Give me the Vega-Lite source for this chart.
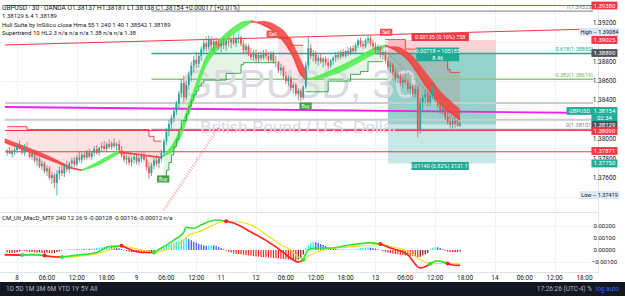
{
"$schema": "https://vega.github.io/schema/vega-lite/v6.json",
"padding": 0,
"spacing": 0,
"bounds": "full",
"background": "#ffffff",
"config": {"view": {"stroke": null}, "font": "Roboto", "axis": {"labelFont": "Roboto"}},
"datasets": {
"bars": [
{"b":-4,"o":1.3786,"h":1.379,"l":1.3783,"c":1.3788,"st":1.3813,"tr":"d","ph":1,"hv":-0.0002,"hc":"dn"},
{"b":-3,"o":1.3788,"h":1.3792,"l":1.3785,"c":1.3785,"st":1.3813,"tr":"d","ph":1,"hv":-0.00024,"hc":"dn"},
{"b":-2,"o":1.3785,"h":1.3789,"l":1.3781,"c":1.3787,"st":1.3813,"tr":"d","ph":1,"hv":-0.0002,"hc":"dnr"},
{"b":-1,"o":1.3787,"h":1.3791,"l":1.3784,"c":1.3789,"st":1.3813,"tr":"d","ph":1,"hv":-0.00023,"hc":"dn"},
{"b":0,"o":1.3789,"h":1.3796,"l":1.3786,"c":1.3793,"st":1.3813,"tr":"d","ph":1,"hv":-0.00018,"hc":"dnr"},
{"b":1,"o":1.3793,"h":1.3799,"l":1.3789,"c":1.3791,"st":1.3813,"tr":"d","ph":1,"hv":-0.00012,"hc":"dnr"},
{"b":2,"o":1.3791,"h":1.3794,"l":1.3784,"c":1.3786,"st":1.3813,"tr":"d","ph":1,"hv":-0.00006,"hc":"dnr"},
{"b":3,"o":1.3786,"h":1.3795,"l":1.3783,"c":1.3792,"st":1.3813,"tr":"d","ph":1,"hv":-0.00008,"hc":"dn"},
{"b":4,"o":1.3792,"h":1.3797,"l":1.3787,"c":1.3788,"st":1.381,"tr":"d","ph":1,"hv":-0.00013,"hc":"dn"},
{"b":5,"o":1.3788,"h":1.3791,"l":1.378,"c":1.3782,"st":1.381,"tr":"d","ph":1,"hv":-0.00016,"hc":"dn"},
{"b":6,"o":1.3782,"h":1.3788,"l":1.3779,"c":1.3785,"st":1.381,"tr":"d","ph":1,"hv":-0.00014,"hc":"dnr"},
{"b":7,"o":1.3785,"h":1.3787,"l":1.3776,"c":1.3778,"st":1.381,"tr":"d","ph":1,"hv":-0.00019,"hc":"dn"},
{"b":8,"o":1.3778,"h":1.3783,"l":1.3772,"c":1.378,"st":1.381,"tr":"d","ph":1,"hv":-0.00022,"hc":"dn"},
{"b":9,"o":1.378,"h":1.3782,"l":1.377,"c":1.3772,"st":1.381,"tr":"d","ph":1,"hv":-0.00018,"hc":"dnr"},
{"b":10,"o":1.3772,"h":1.3778,"l":1.3768,"c":1.3775,"st":1.381,"tr":"d","ph":1,"hv":-0.00024,"hc":"dn"},
{"b":11,"o":1.3775,"h":1.3777,"l":1.3765,"c":1.3767,"st":1.381,"tr":"d","ph":1,"hv":-0.00026,"hc":"dn"},
{"b":12,"o":1.3767,"h":1.3773,"l":1.3762,"c":1.377,"st":1.381,"tr":"d","ph":1,"hv":-0.00021,"hc":"dnr"},
{"b":13,"o":1.377,"h":1.3772,"l":1.3758,"c":1.376,"st":1.381,"tr":"d","ph":1,"hv":-0.00025,"hc":"dn"},
{"b":14,"o":1.376,"h":1.3766,"l":1.3754,"c":1.3763,"st":1.381,"tr":"d","ph":1,"hv":-0.00028,"hc":"dn"},
{"b":15,"o":1.3763,"h":1.3765,"l":1.3749,"c":1.3755,"st":1.381,"tr":"d","ph":1,"hv":-0.00023,"hc":"dnr"},
{"b":16,"o":1.3755,"h":1.3768,"l":1.37419,"c":1.3764,"st":1.381,"tr":"d","ph":1,"hv":-0.00016,"hc":"dnr"},
{"b":17,"o":1.3764,"h":1.3772,"l":1.3758,"c":1.3768,"st":1.381,"tr":"d","ph":1,"hv":-0.0001,"hc":"dnr"},
{"b":18,"o":1.3768,"h":1.3774,"l":1.3762,"c":1.3765,"st":1.381,"tr":"d","ph":1,"hv":-0.00004,"hc":"dnr"},
{"b":19,"o":1.3765,"h":1.3775,"l":1.3761,"c":1.3772,"st":1.381,"tr":"d","ph":1,"hv":0.00003,"hc":"up"},
{"b":20,"o":1.3772,"h":1.3778,"l":1.3766,"c":1.3769,"st":1.381,"tr":"d","ph":1,"hv":0.00005,"hc":"up"},
{"b":21,"o":1.3769,"h":1.3777,"l":1.3765,"c":1.3775,"st":1.381,"tr":"d","ph":1,"hv":0.00004,"hc":"upf"},
{"b":22,"o":1.3775,"h":1.3781,"l":1.377,"c":1.3778,"st":1.381,"tr":"d","ph":1,"hv":0.00007,"hc":"up"},
{"b":23,"o":1.3778,"h":1.3782,"l":1.3771,"c":1.3774,"st":1.381,"tr":"d","ph":1,"hv":0.00009,"hc":"up"},
{"b":24,"o":1.3774,"h":1.3784,"l":1.3772,"c":1.3781,"st":1.381,"tr":"d","ph":1,"hv":0.00006,"hc":"upf"},
{"b":25,"o":1.3781,"h":1.3787,"l":1.3776,"c":1.3779,"st":1.381,"tr":"d","ph":1,"hv":0.00008,"hc":"up"},
{"b":26,"o":1.3779,"h":1.3786,"l":1.3775,"c":1.3784,"st":1.381,"tr":"d","ph":1,"hv":0.0001,"hc":"up"},
{"b":27,"o":1.3784,"h":1.3788,"l":1.3778,"c":1.3781,"st":1.381,"tr":"d","ph":1,"hv":0.00008,"hc":"upf"},
{"b":28,"o":1.3781,"h":1.3789,"l":1.3779,"c":1.3787,"st":1.381,"tr":"d","ph":1,"hv":0.00011,"hc":"up"},
{"b":29,"o":1.3787,"h":1.379,"l":1.378,"c":1.3782,"st":1.381,"tr":"d","ph":1,"hv":0.00009,"hc":"upf"},
{"b":30,"o":1.3782,"h":1.3788,"l":1.3779,"c":1.3786,"st":1.381,"tr":"d","ph":1,"hv":0.00012,"hc":"up"},
{"b":31,"o":1.3786,"h":1.3793,"l":1.3783,"c":1.379,"st":1.381,"tr":"d","ph":1,"hv":0.00015,"hc":"up"},
{"b":32,"o":1.379,"h":1.3794,"l":1.3784,"c":1.3786,"st":1.381,"tr":"d","ph":1,"hv":0.00018,"hc":"up"},
{"b":33,"o":1.3786,"h":1.3792,"l":1.3783,"c":1.3791,"st":1.381,"tr":"d","ph":1,"hv":0.00021,"hc":"up"},
{"b":34,"o":1.3791,"h":1.3797,"l":1.3787,"c":1.3793,"st":1.381,"tr":"d","ph":1,"hv":0.00024,"hc":"up"},
{"b":35,"o":1.3793,"h":1.3798,"l":1.3788,"c":1.379,"st":1.381,"tr":"d","ph":1,"hv":0.00028,"hc":"up"},
{"b":36,"o":1.379,"h":1.3797,"l":1.3787,"c":1.3795,"st":1.381,"tr":"d","ph":1,"hv":0.00031,"hc":"up"},
{"b":37,"o":1.3795,"h":1.38,"l":1.379,"c":1.3792,"st":1.381,"tr":"d","ph":1,"hv":0.00033,"hc":"up"},
{"b":38,"o":1.3792,"h":1.3798,"l":1.3789,"c":1.3796,"st":1.381,"tr":"d","ph":1,"hv":0.00029,"hc":"upf"},
{"b":39,"o":1.3796,"h":1.3801,"l":1.3791,"c":1.3793,"st":1.381,"tr":"d","ph":1,"hv":0.00026,"hc":"upf"},
{"b":40,"o":1.3793,"h":1.3797,"l":1.3788,"c":1.3795,"st":1.381,"tr":"d","ph":1,"hv":0.00022,"hc":"upf"},
{"b":41,"o":1.3795,"h":1.3799,"l":1.3787,"c":1.3789,"st":1.381,"tr":"d","ph":1,"hv":0.00015,"hc":"upf"},
{"b":42,"o":1.3789,"h":1.3793,"l":1.3781,"c":1.3783,"st":1.381,"tr":"d","ph":1,"hv":0.00008,"hc":"upf"},
{"b":43,"o":1.3783,"h":1.3786,"l":1.3776,"c":1.3779,"st":1.381,"tr":"d","ph":1,"hv":-0.00003,"hc":"dn"},
{"b":44,"o":1.3779,"h":1.3784,"l":1.3774,"c":1.3781,"st":1.381,"tr":"d","ph":1,"hv":-0.00009,"hc":"dn"},
{"b":45,"o":1.3781,"h":1.3783,"l":1.3773,"c":1.3776,"st":1.381,"tr":"d","ph":1,"hv":-0.00014,"hc":"dn"},
{"b":46,"o":1.3776,"h":1.3782,"l":1.3772,"c":1.3779,"st":1.381,"tr":"d","ph":1,"hv":-0.00018,"hc":"dn"},
{"b":47,"o":1.3779,"h":1.3785,"l":1.3775,"c":1.3782,"st":1.381,"tr":"d","ph":1,"hv":-0.00016,"hc":"dnr"},
{"b":48,"o":1.3782,"h":1.3784,"l":1.3774,"c":1.3777,"st":1.381,"tr":"d","ph":1,"hv":-0.0002,"hc":"dn"},
{"b":49,"o":1.3777,"h":1.3783,"l":1.3773,"c":1.378,"st":1.381,"tr":"d","ph":1,"hv":-0.00023,"hc":"dn"},
{"b":50,"o":1.378,"h":1.3786,"l":1.3776,"c":1.3783,"st":1.381,"tr":"d","ph":1,"hv":-0.00025,"hc":"dn"},
{"b":51,"o":1.3783,"h":1.3788,"l":1.3777,"c":1.3779,"st":1.381,"tr":"d","ph":1,"hv":-0.00022,"hc":"dnr"},
{"b":52,"o":1.3779,"h":1.3782,"l":1.3768,"c":1.3771,"st":1.381,"tr":"d","ph":1,"hv":-0.00026,"hc":"dn"},
{"b":53,"o":1.3771,"h":1.3776,"l":1.3759,"c":1.3765,"st":1.3803,"tr":"d","ph":1,"hv":-0.00029,"hc":"dn"},
{"b":54,"o":1.3765,"h":1.3776,"l":1.3762,"c":1.3773,"st":1.3803,"tr":"d","ph":1,"hv":-0.00022,"hc":"dnr"},
{"b":55,"o":1.3773,"h":1.3781,"l":1.3769,"c":1.3778,"st":1.3798,"tr":"d","ph":1,"hv":-0.00012,"hc":"dnr"},
{"b":56,"o":1.3778,"h":1.3784,"l":1.3772,"c":1.3775,"st":1.3798,"tr":"d","ph":1,"hv":0.00004,"hc":"up"},
{"b":57,"o":1.3775,"h":1.3782,"l":1.377,"c":1.378,"st":1.3798,"tr":"d","ph":1,"hv":0.00012,"hc":"up"},
{"b":58,"o":1.378,"h":1.3789,"l":1.3777,"c":1.3786,"st":1.3798,"tr":"d","ph":1,"hv":0.0002,"hc":"up"},
{"b":59,"o":1.3786,"h":1.38,"l":1.3783,"c":1.3798,"st":1.376,"tr":"u","ph":2,"hv":0.00029,"hc":"up"},
{"b":60,"o":1.3798,"h":1.3812,"l":1.3794,"c":1.3808,"st":1.3768,"tr":"u","ph":2,"hv":0.00038,"hc":"up"},
{"b":61,"o":1.3808,"h":1.382,"l":1.3803,"c":1.3816,"st":1.3776,"tr":"u","ph":2,"hv":0.00046,"hc":"up"},
{"b":62,"o":1.3816,"h":1.3825,"l":1.381,"c":1.3822,"st":1.3784,"tr":"u","ph":2,"hv":0.00055,"hc":"up"},
{"b":63,"o":1.3822,"h":1.3833,"l":1.3818,"c":1.3829,"st":1.3792,"tr":"u","ph":2,"hv":0.00063,"hc":"up"},
{"b":64,"o":1.3829,"h":1.384,"l":1.3825,"c":1.3837,"st":1.38,"tr":"u","ph":2,"hv":0.0007,"hc":"up"},
{"b":65,"o":1.3837,"h":1.385,"l":1.3832,"c":1.3847,"st":1.381,"tr":"u","ph":2,"hv":0.00078,"hc":"up"},
{"b":66,"o":1.3847,"h":1.3862,"l":1.3843,"c":1.3858,"st":1.3819,"tr":"u","ph":2,"hv":0.00085,"hc":"up"},
{"b":67,"o":1.3858,"h":1.3866,"l":1.3838,"c":1.3843,"st":1.3819,"tr":"u","ph":2,"hv":0.00093,"hc":"up"},
{"b":68,"o":1.3843,"h":1.386,"l":1.384,"c":1.3856,"st":1.3826,"tr":"u","ph":2,"hv":0.001,"hc":"up"},
{"b":69,"o":1.3856,"h":1.387,"l":1.3851,"c":1.3866,"st":1.3834,"tr":"u","ph":2,"hv":0.00092,"hc":"upf"},
{"b":70,"o":1.3866,"h":1.388,"l":1.386,"c":1.3876,"st":1.384,"tr":"u","ph":2,"hv":0.00081,"hc":"upf"},
{"b":71,"o":1.3876,"h":1.3886,"l":1.3869,"c":1.3882,"st":1.3846,"tr":"u","ph":2,"hv":0.0007,"hc":"upf"},
{"b":72,"o":1.3882,"h":1.389,"l":1.3873,"c":1.3878,"st":1.385,"tr":"u","ph":2,"hv":0.0006,"hc":"upf"},
{"b":73,"o":1.3878,"h":1.3889,"l":1.3874,"c":1.3886,"st":1.3855,"tr":"u","ph":2,"hv":0.00052,"hc":"upf"},
{"b":74,"o":1.3886,"h":1.3896,"l":1.3881,"c":1.3893,"st":1.3858,"tr":"u","ph":2,"hv":0.00046,"hc":"upf"},
{"b":75,"o":1.3893,"h":1.3903,"l":1.3888,"c":1.3899,"st":1.3861,"tr":"u","ph":2,"hv":0.0004,"hc":"upf"},
{"b":76,"o":1.3899,"h":1.3906,"l":1.3891,"c":1.3895,"st":1.3861,"tr":"u","ph":2,"hv":0.00034,"hc":"upf"},
{"b":77,"o":1.3895,"h":1.3907,"l":1.3892,"c":1.3903,"st":1.3861,"tr":"u","ph":2,"hv":0.00038,"hc":"up"},
{"b":78,"o":1.3903,"h":1.3906,"l":1.3893,"c":1.3897,"st":1.3861,"tr":"u","ph":2,"hv":0.00042,"hc":"up"},
{"b":79,"o":1.3897,"h":1.3904,"l":1.389,"c":1.3901,"st":1.3861,"tr":"u","ph":2,"hv":0.00039,"hc":"upf"},
{"b":80,"o":1.3901,"h":1.3905,"l":1.3894,"c":1.3898,"st":1.3861,"tr":"u","ph":2,"hv":0.00034,"hc":"upf"},
{"b":81,"o":1.3898,"h":1.3903,"l":1.3892,"c":1.3896,"st":1.3861,"tr":"u","ph":2,"hv":0.00026,"hc":"upf"},
{"b":82,"o":1.3896,"h":1.3902,"l":1.389,"c":1.3899,"st":1.3861,"tr":"u","ph":2,"hv":0.00018,"hc":"upf"},
{"b":83,"o":1.3899,"h":1.3904,"l":1.3893,"c":1.3897,"st":1.3861,"tr":"u","ph":2,"hv":0.00008,"hc":"upf"},
{"b":84,"o":1.3897,"h":1.3903,"l":1.3891,"c":1.3901,"st":1.3868,"tr":"u","ph":2,"hv":-0.00006,"hc":"dn"},
{"b":85,"o":1.3901,"h":1.3906,"l":1.3896,"c":1.39,"st":1.3868,"tr":"u","ph":2,"hv":-0.00014,"hc":"dn"},
{"b":86,"o":1.39,"h":1.3905,"l":1.3894,"c":1.3903,"st":1.3868,"tr":"u","ph":2,"hv":-0.0002,"hc":"dn"},
{"b":87,"o":1.3903,"h":1.3907,"l":1.3897,"c":1.3899,"st":1.3868,"tr":"u","ph":2,"hv":-0.00026,"hc":"dn"},
{"b":88,"o":1.3899,"h":1.3906,"l":1.3895,"c":1.3904,"st":1.3868,"tr":"u","ph":2,"hv":-0.0003,"hc":"dn"},
{"b":89,"o":1.3904,"h":1.39084,"l":1.3899,"c":1.3905,"st":1.3868,"tr":"u","ph":2,"hv":-0.00034,"hc":"dn"},
{"b":90,"o":1.3905,"h":1.3907,"l":1.3896,"c":1.3898,"st":1.3877,"tr":"u","ph":2,"hv":-0.00036,"hc":"dn"},
{"b":91,"o":1.3898,"h":1.3902,"l":1.3889,"c":1.3892,"st":1.3879,"tr":"u","ph":2,"hv":-0.00039,"hc":"dn"},
{"b":92,"o":1.3892,"h":1.3899,"l":1.3888,"c":1.3896,"st":1.3879,"tr":"u","ph":2,"hv":-0.00042,"hc":"dn"},
{"b":93,"o":1.3896,"h":1.3898,"l":1.3886,"c":1.3889,"st":1.3879,"tr":"u","ph":2,"hv":-0.00045,"hc":"dn"},
{"b":94,"o":1.3889,"h":1.3894,"l":1.3882,"c":1.3885,"st":1.3879,"tr":"u","ph":2,"hv":-0.00048,"hc":"dn"},
{"b":95,"o":1.3885,"h":1.3892,"l":1.3881,"c":1.3889,"st":1.3879,"tr":"u","ph":2,"hv":-0.0005,"hc":"dn"},
{"b":96,"o":1.3889,"h":1.3893,"l":1.388,"c":1.3883,"st":1.3879,"tr":"u","ph":2,"hv":-0.00053,"hc":"dn"},
{"b":97,"o":1.3883,"h":1.389,"l":1.3879,"c":1.3887,"st":1.3879,"tr":"u","ph":2,"hv":-0.00055,"hc":"dn"},
{"b":98,"o":1.3887,"h":1.3891,"l":1.3881,"c":1.3884,"st":1.3879,"tr":"u","ph":2,"hv":-0.00057,"hc":"dn"},
{"b":99,"o":1.3884,"h":1.3892,"l":1.3882,"c":1.3889,"st":1.3879,"tr":"u","ph":2,"hv":-0.00059,"hc":"dn"},
{"b":100,"o":1.3889,"h":1.3893,"l":1.3883,"c":1.3886,"st":1.3879,"tr":"u","ph":2,"hv":-0.00061,"hc":"dn"},
{"b":101,"o":1.3886,"h":1.389,"l":1.3879,"c":1.3882,"st":1.3879,"tr":"u","ph":2,"hv":-0.00063,"hc":"dn"},
{"b":102,"o":1.3882,"h":1.3891,"l":1.388,"c":1.3888,"st":1.3879,"tr":"u","ph":2,"hv":-0.00065,"hc":"dn"},
{"b":103,"o":1.3888,"h":1.3891,"l":1.3878,"c":1.388,"st":1.3879,"tr":"u","ph":2,"hv":-0.00067,"hc":"dn"},
{"b":104,"o":1.388,"h":1.3886,"l":1.3874,"c":1.388,"st":1.3879,"tr":"u","ph":2,"hv":-0.00069,"hc":"dn"},
{"b":105,"o":1.388,"h":1.3881,"l":1.3868,"c":1.3871,"st":1.3904,"tr":"d","ph":3,"hv":-0.00071,"hc":"dn"},
{"b":106,"o":1.3871,"h":1.3878,"l":1.3866,"c":1.3874,"st":1.3904,"tr":"d","ph":3,"hv":-0.00073,"hc":"dn"},
{"b":107,"o":1.3874,"h":1.3876,"l":1.3862,"c":1.3865,"st":1.3904,"tr":"d","ph":3,"hv":-0.00075,"hc":"dn"},
{"b":108,"o":1.3865,"h":1.387,"l":1.3857,"c":1.386,"st":1.3904,"tr":"d","ph":3,"hv":-0.00077,"hc":"dn"},
{"b":109,"o":1.386,"h":1.3866,"l":1.3855,"c":1.3863,"st":1.3904,"tr":"d","ph":3,"hv":-0.00079,"hc":"dn"},
{"b":110,"o":1.3863,"h":1.3865,"l":1.385,"c":1.3853,"st":1.3897,"tr":"d","ph":3,"hv":-0.00081,"hc":"dn"},
{"b":111,"o":1.3853,"h":1.3859,"l":1.3847,"c":1.3856,"st":1.3897,"tr":"d","ph":3,"hv":-0.00083,"hc":"dn"},
{"b":112,"o":1.3856,"h":1.3858,"l":1.3844,"c":1.3847,"st":1.3897,"tr":"d","ph":3,"hv":-0.00084,"hc":"dn"},
{"b":113,"o":1.3847,"h":1.3853,"l":1.384,"c":1.385,"st":1.3897,"tr":"d","ph":3,"hv":-0.00078,"hc":"dnr"},
{"b":114,"o":1.385,"h":1.3852,"l":1.3839,"c":1.3843,"st":1.3897,"tr":"d","ph":3,"hv":-0.00065,"hc":"dnr"},
{"b":115,"o":1.3843,"h":1.3856,"l":1.3841,"c":1.3854,"st":1.3897,"tr":"d","ph":3,"hv":-0.00038,"hc":"dnr"},
{"b":116,"o":1.3854,"h":1.388,"l":1.3852,"c":1.3876,"st":1.3849,"tr":"u","ph":4,"hv":0.00015,"hc":"up"},
{"b":117,"o":1.3876,"h":1.3906,"l":1.3872,"c":1.3894,"st":1.3849,"tr":"u","ph":4,"hv":0.0004,"hc":"up"},
{"b":118,"o":1.3894,"h":1.3898,"l":1.3883,"c":1.3886,"st":1.3849,"tr":"u","ph":4,"hv":0.00058,"hc":"up"},
{"b":119,"o":1.3886,"h":1.3892,"l":1.388,"c":1.3889,"st":1.3849,"tr":"u","ph":4,"hv":0.00068,"hc":"up"},
{"b":120,"o":1.3889,"h":1.3891,"l":1.3878,"c":1.3881,"st":1.3849,"tr":"u","ph":4,"hv":0.00064,"hc":"upf"},
{"b":121,"o":1.3881,"h":1.3887,"l":1.3876,"c":1.3884,"st":1.3849,"tr":"u","ph":4,"hv":0.00058,"hc":"upf"},
{"b":122,"o":1.3884,"h":1.3888,"l":1.3878,"c":1.388,"st":1.3849,"tr":"u","ph":4,"hv":0.0005,"hc":"upf"},
{"b":123,"o":1.388,"h":1.3885,"l":1.3874,"c":1.3883,"st":1.3849,"tr":"u","ph":4,"hv":0.00043,"hc":"upf"},
{"b":124,"o":1.3883,"h":1.3886,"l":1.3876,"c":1.3879,"st":1.3849,"tr":"u","ph":4,"hv":0.00034,"hc":"upf"},
{"b":125,"o":1.3879,"h":1.3884,"l":1.3872,"c":1.3876,"st":1.386,"tr":"u","ph":4,"hv":0.00024,"hc":"upf"},
{"b":126,"o":1.3876,"h":1.3883,"l":1.3873,"c":1.3881,"st":1.386,"tr":"u","ph":4,"hv":0.00016,"hc":"upf"},
{"b":127,"o":1.3881,"h":1.3886,"l":1.3877,"c":1.3884,"st":1.386,"tr":"u","ph":4,"hv":0.00011,"hc":"upf"},
{"b":128,"o":1.3884,"h":1.389,"l":1.388,"c":1.3887,"st":1.386,"tr":"u","ph":4,"hv":0.00008,"hc":"upf"},
{"b":129,"o":1.3887,"h":1.3891,"l":1.3882,"c":1.3885,"st":1.386,"tr":"u","ph":4,"hv":0.00006,"hc":"upf"},
{"b":130,"o":1.3885,"h":1.3892,"l":1.3883,"c":1.389,"st":1.386,"tr":"u","ph":4,"hv":0.00005,"hc":"upf"},
{"b":131,"o":1.389,"h":1.3893,"l":1.3884,"c":1.3886,"st":1.386,"tr":"u","ph":4,"hv":0.00006,"hc":"up"},
{"b":132,"o":1.3886,"h":1.3892,"l":1.3884,"c":1.3891,"st":1.386,"tr":"u","ph":4,"hv":0.00004,"hc":"upf"},
{"b":133,"o":1.3891,"h":1.3895,"l":1.3886,"c":1.3889,"st":1.386,"tr":"u","ph":4,"hv":0.00003,"hc":"upf"},
{"b":134,"o":1.3889,"h":1.3896,"l":1.3887,"c":1.3894,"st":1.3867,"tr":"u","ph":4,"hv":0.00004,"hc":"up"},
{"b":135,"o":1.3894,"h":1.3897,"l":1.3888,"c":1.3891,"st":1.3867,"tr":"u","ph":4,"hv":0.00005,"hc":"up"},
{"b":136,"o":1.3891,"h":1.3899,"l":1.3889,"c":1.3897,"st":1.3867,"tr":"u","ph":4,"hv":0.00008,"hc":"up"},
{"b":137,"o":1.3897,"h":1.3904,"l":1.3894,"c":1.3902,"st":1.3867,"tr":"u","ph":4,"hv":0.00012,"hc":"up"},
{"b":138,"o":1.3902,"h":1.3905,"l":1.3895,"c":1.3898,"st":1.387,"tr":"u","ph":4,"hv":0.00016,"hc":"up"},
{"b":139,"o":1.3898,"h":1.3902,"l":1.3893,"c":1.3896,"st":1.387,"tr":"u","ph":4,"hv":0.00019,"hc":"up"},
{"b":140,"o":1.3896,"h":1.3904,"l":1.3894,"c":1.3902,"st":1.387,"tr":"u","ph":4,"hv":0.00022,"hc":"up"},
{"b":141,"o":1.3902,"h":1.3907,"l":1.3898,"c":1.3904,"st":1.388,"tr":"u","ph":4,"hv":0.00024,"hc":"up"},
{"b":142,"o":1.3904,"h":1.3907,"l":1.3896,"c":1.3899,"st":1.388,"tr":"u","ph":4,"hv":0.00021,"hc":"upf"},
{"b":143,"o":1.3899,"h":1.3903,"l":1.3893,"c":1.3896,"st":1.388,"tr":"u","ph":4,"hv":0.00017,"hc":"upf"},
{"b":144,"o":1.3896,"h":1.39,"l":1.3889,"c":1.3892,"st":1.388,"tr":"u","ph":4,"hv":0.00012,"hc":"upf"},
{"b":145,"o":1.3892,"h":1.3898,"l":1.3887,"c":1.3895,"st":1.388,"tr":"u","ph":4,"hv":0.00006,"hc":"upf"},
{"b":146,"o":1.3895,"h":1.3897,"l":1.3884,"c":1.3887,"st":1.388,"tr":"u","ph":4,"hv":-0.00003,"hc":"dn"},
{"b":147,"o":1.3887,"h":1.3893,"l":1.3882,"c":1.389,"st":1.388,"tr":"u","ph":4,"hv":-0.0001,"hc":"dn"},
{"b":148,"o":1.389,"h":1.3892,"l":1.3878,"c":1.3881,"st":1.3903,"tr":"d","ph":5,"hv":-0.00016,"hc":"dn"},
{"b":149,"o":1.3881,"h":1.3885,"l":1.3872,"c":1.3875,"st":1.3903,"tr":"d","ph":5,"hv":-0.00022,"hc":"dn"},
{"b":150,"o":1.3875,"h":1.388,"l":1.3868,"c":1.3877,"st":1.3903,"tr":"d","ph":5,"hv":-0.00026,"hc":"dn"},
{"b":151,"o":1.3877,"h":1.3879,"l":1.3866,"c":1.3869,"st":1.3903,"tr":"d","ph":5,"hv":-0.0003,"hc":"dn"},
{"b":152,"o":1.3869,"h":1.3873,"l":1.386,"c":1.3863,"st":1.3903,"tr":"d","ph":5,"hv":-0.00033,"hc":"dn"},
{"b":153,"o":1.3863,"h":1.3868,"l":1.3858,"c":1.3866,"st":1.3903,"tr":"d","ph":5,"hv":-0.00036,"hc":"dn"},
{"b":154,"o":1.3866,"h":1.3868,"l":1.3855,"c":1.3858,"st":1.3903,"tr":"d","ph":5,"hv":-0.00039,"hc":"dn"},
{"b":155,"o":1.3858,"h":1.3864,"l":1.3853,"c":1.3861,"st":1.3903,"tr":"d","ph":5,"hv":-0.00042,"hc":"dn"},
{"b":156,"o":1.3861,"h":1.3866,"l":1.3856,"c":1.3859,"st":1.3893,"tr":"d","ph":5,"hv":-0.00045,"hc":"dn"},
{"b":157,"o":1.3859,"h":1.3862,"l":1.3849,"c":1.3852,"st":1.3893,"tr":"d","ph":5,"hv":-0.00046,"hc":"dn"},
{"b":158,"o":1.3852,"h":1.3858,"l":1.3846,"c":1.3855,"st":1.3893,"tr":"d","ph":5,"hv":-0.00048,"hc":"dn"},
{"b":159,"o":1.3855,"h":1.3857,"l":1.3844,"c":1.3847,"st":1.3893,"tr":"d","ph":5,"hv":-0.0005,"hc":"dn"},
{"b":160,"o":1.3847,"h":1.3856,"l":1.3843,"c":1.3852,"st":1.3893,"tr":"d","ph":5,"hv":-0.00052,"hc":"dn"},
{"b":161,"o":1.3852,"h":1.3855,"l":1.3802,"c":1.381,"st":1.3893,"tr":"d","ph":5,"hv":-0.0006,"hc":"dn"},
{"b":162,"o":1.381,"h":1.3842,"l":1.3806,"c":1.3838,"st":1.3893,"tr":"d","ph":5,"hv":-0.00055,"hc":"dnr"},
{"b":163,"o":1.3838,"h":1.3846,"l":1.383,"c":1.3843,"st":1.3893,"tr":"d","ph":5,"hv":-0.00046,"hc":"dnr"},
{"b":164,"o":1.3843,"h":1.3852,"l":1.3836,"c":1.3847,"st":1.3883,"tr":"d","ph":5,"hv":-0.00036,"hc":"dnr"},
{"b":165,"o":1.3847,"h":1.385,"l":1.3834,"c":1.3838,"st":1.3883,"tr":"d","ph":5,"hv":-0.00024,"hc":"dnr"},
{"b":166,"o":1.3838,"h":1.3848,"l":1.3834,"c":1.3845,"st":1.3883,"tr":"d","ph":5,"hv":0.00008,"hc":"up"},
{"b":167,"o":1.3845,"h":1.3857,"l":1.3841,"c":1.3852,"st":1.3883,"tr":"d","ph":5,"hv":0.0002,"hc":"up"},
{"b":168,"o":1.3852,"h":1.3856,"l":1.3838,"c":1.3841,"st":1.3883,"tr":"d","ph":5,"hv":0.00026,"hc":"up"},
{"b":169,"o":1.3841,"h":1.3847,"l":1.3832,"c":1.3835,"st":1.3883,"tr":"d","ph":5,"hv":0.00023,"hc":"upf"},
{"b":170,"o":1.3835,"h":1.384,"l":1.3826,"c":1.3829,"st":1.3883,"tr":"d","ph":5,"hv":0.00016,"hc":"upf"},
{"b":171,"o":1.3829,"h":1.3836,"l":1.3825,"c":1.3832,"st":1.3883,"tr":"d","ph":5,"hv":0.00008,"hc":"upf"},
{"b":172,"o":1.3832,"h":1.3834,"l":1.382,"c":1.3823,"st":1.3883,"tr":"d","ph":5,"hv":-0.00006,"hc":"dn"},
{"b":173,"o":1.3823,"h":1.3829,"l":1.3815,"c":1.3818,"st":1.3872,"tr":"d","ph":5,"hv":-0.00012,"hc":"dn"},
{"b":174,"o":1.3818,"h":1.3824,"l":1.3812,"c":1.3815,"st":1.3869,"tr":"d","ph":5,"hv":-0.00016,"hc":"dn"},
{"b":175,"o":1.3815,"h":1.3822,"l":1.3811,"c":1.3819,"st":1.3869,"tr":"d","ph":5,"hv":-0.00018,"hc":"dn"},
{"b":176,"o":1.3819,"h":1.3823,"l":1.3812,"c":1.3816,"st":1.3869,"tr":"d","ph":5,"hv":-0.00017,"hc":"dnr"},
{"b":177,"o":1.3816,"h":1.3821,"l":1.3813,"c":1.3814,"st":1.3869,"tr":"d","ph":5,"hv":-0.00014,"hc":"dnr"},
{"b":178,"o":1.38137,"h":1.38181,"l":1.3813,"c":1.38154,"st":1.3869,"tr":"d","ph":5,"hv":-0.00012,"hc":"dnr"}
],
"hull": [
{"b":-5,"h1":1.3797,"h2":1.3801,"tr":"d","sg":1},{"b":0,"h1":1.3792,"h2":1.3796,"tr":"d","sg":1},{"b":5,"h1":1.3787,"h2":1.3791,"tr":"d","sg":1},{"b":10,"h1":1.3782,"h2":1.3786,"tr":"d","sg":1},{"b":15,"h1":1.3777,"h2":1.378,"tr":"d","sg":1},{"b":19,"h1":1.3773,"h2":1.3775,"tr":"d","sg":1},
{"b":19,"h1":1.3773,"h2":1.3775,"tr":"d","sg":2},{"b":22,"h1":1.377,"h2":1.3771,"tr":"d","sg":2},{"b":26,"h1":1.3768,"h2":1.3769,"tr":"d","sg":2},
{"b":26,"h1":1.3768,"h2":1.3769,"tr":"u","sg":3},{"b":30,"h1":1.3771,"h2":1.3774,"tr":"u","sg":3},{"b":35,"h1":1.3777,"h2":1.3781,"tr":"u","sg":3},{"b":41,"h1":1.3786,"h2":1.3789,"tr":"u","sg":3},
{"b":41,"h1":1.3786,"h2":1.3788,"tr":"d","sg":4},{"b":46,"h1":1.3785,"h2":1.3786,"tr":"d","sg":4},{"b":52,"h1":1.3783,"h2":1.3784,"tr":"d","sg":4},{"b":58,"h1":1.3781,"h2":1.3782,"tr":"d","sg":4},
{"b":58,"h1":1.3781,"h2":1.3782,"tr":"u","sg":5},{"b":62,"h1":1.3792,"h2":1.3786,"tr":"u","sg":5},{"b":66,"h1":1.3812,"h2":1.3803,"tr":"u","sg":5},{"b":70,"h1":1.3842,"h2":1.3833,"tr":"u","sg":5},{"b":73,"h1":1.3864,"h2":1.3855,"tr":"u","sg":5},{"b":76,"h1":1.3884,"h2":1.3875,"tr":"u","sg":5},{"b":81,"h1":1.3901,"h2":1.3893,"tr":"u","sg":5},{"b":86,"h1":1.3913,"h2":1.3906,"tr":"u","sg":5},{"b":91,"h1":1.3921,"h2":1.3915,"tr":"u","sg":5},{"b":94,"h1":1.3922,"h2":1.392,"tr":"u","sg":5},
{"b":94,"h1":1.3922,"h2":1.392,"tr":"d","sg":6},{"b":99,"h1":1.3918,"h2":1.3922,"tr":"d","sg":6},{"b":104,"h1":1.391,"h2":1.3918,"tr":"d","sg":6},{"b":108,"h1":1.3898,"h2":1.391,"tr":"d","sg":6},{"b":111,"h1":1.3885,"h2":1.3898,"tr":"d","sg":6},{"b":114,"h1":1.3867,"h2":1.3882,"tr":"d","sg":6},{"b":116.6,"h1":1.3861,"h2":1.3868,"tr":"d","sg":6},
{"b":116.6,"h1":1.3862,"h2":1.3864,"tr":"u","sg":7},{"b":120,"h1":1.3864,"h2":1.3862,"tr":"u","sg":7},{"b":124,"h1":1.3868,"h2":1.3864,"tr":"u","sg":7},{"b":128,"h1":1.3873,"h2":1.3867,"tr":"u","sg":7},{"b":133,"h1":1.3879,"h2":1.3873,"tr":"u","sg":7},{"b":138,"h1":1.3886,"h2":1.388,"tr":"u","sg":7},{"b":143,"h1":1.3893,"h2":1.3887,"tr":"u","sg":7},{"b":148,"h1":1.3897,"h2":1.3895,"tr":"u","sg":7},
{"b":148,"h1":1.3897,"h2":1.3895,"tr":"d","sg":8},{"b":152,"h1":1.3892,"h2":1.3896,"tr":"d","sg":8},{"b":157,"h1":1.3882,"h2":1.389,"tr":"d","sg":8},{"b":161,"h1":1.3868,"h2":1.388,"tr":"d","sg":8},{"b":164,"h1":1.3856,"h2":1.387,"tr":"d","sg":8},{"b":167,"h1":1.3846,"h2":1.386,"tr":"d","sg":8},{"b":170,"h1":1.3837,"h2":1.385,"tr":"d","sg":8},{"b":174,"h1":1.3828,"h2":1.384,"tr":"d","sg":8},{"b":178,"h1":1.382,"h2":1.3831,"tr":"d","sg":8}
],
"macd": [
{"b":-5,"m":-0.0004,"s":-0.00032,"sg":1,"t":"bear"},{"b":2,"m":-0.00042,"s":-0.00042,"sg":1,"t":"bear"},
{"b":2,"m":-0.00042,"s":-0.00042,"sg":2,"t":"bull"},{"b":6,"m":-0.00038,"s":-0.00044,"sg":2,"t":"bull"},{"b":11,"m":-0.00046,"s":-0.00046,"sg":2,"t":"bull"},
{"b":11,"m":-0.00046,"s":-0.00046,"sg":3,"t":"bear"},{"b":15,"m":-0.00058,"s":-0.00052,"sg":3,"t":"bear"},{"b":18,"m":-0.00058,"s":-0.00058,"sg":3,"t":"bear"},
{"b":18,"m":-0.00058,"s":-0.00058,"sg":4,"t":"bull"},{"b":25,"m":-0.0004,"s":-0.0005,"sg":4,"t":"bull"},{"b":32,"m":-0.0002,"s":-0.0003,"sg":4,"t":"bull"},{"b":37,"m":0.0003,"s":0,"sg":4,"t":"bull"},{"b":42,"m":0.00035,"s":0.00035,"sg":4,"t":"bull"},
{"b":42,"m":0.00035,"s":0.00035,"sg":5,"t":"bear"},{"b":46,"m":0,"s":0.0002,"sg":5,"t":"bear"},{"b":50,"m":-0.0002,"s":0,"sg":5,"t":"bear"},{"b":55,"m":-0.0002,"s":-0.0002,"sg":5,"t":"bear"},
{"b":55,"m":-0.0002,"s":-0.0002,"sg":6,"t":"bull"},{"b":58,"m":0.00017,"s":-0.0001,"sg":6,"t":"bull"},{"b":63,"m":0.00083,"s":0.0003,"sg":6,"t":"bull"},{"b":67,"m":0.0015,"s":0.0008,"sg":6,"t":"bull"},{"b":68,"m":0.0019,"s":0.0011,"sg":6,"t":"bull"},{"b":71,"m":0.0018,"s":0.0014,"sg":6,"t":"bull"},{"b":74,"m":0.0021,"s":0.0016,"sg":6,"t":"bull"},{"b":80,"m":0.0025,"s":0.0022,"sg":6,"t":"bull"},{"b":84,"m":0.0024,"s":0.0024,"sg":6,"t":"bull"},
{"b":84,"m":0.0024,"s":0.0024,"sg":7,"t":"bear"},{"b":87,"m":0.00225,"s":0.0024,"sg":7,"t":"bear"},{"b":94,"m":0.0015,"s":0.0021,"sg":7,"t":"bear"},{"b":100,"m":0.0008,"s":0.0013,"sg":7,"t":"bear"},{"b":107,"m":-0.0002,"s":0.0003,"sg":7,"t":"bear"},{"b":110,"m":-0.0007,"s":0,"sg":7,"t":"bear"},{"b":113,"m":-0.001,"s":-0.0006,"sg":7,"t":"bear"},{"b":115,"m":-0.0008,"s":-0.0008,"sg":7,"t":"bear"},
{"b":115,"m":-0.0008,"s":-0.0008,"sg":8,"t":"bull"},{"b":117,"m":0,"s":-0.0005,"sg":8,"t":"bull"},{"b":120,"m":0.00017,"s":-0.0002,"sg":8,"t":"bull"},{"b":126,"m":0.00017,"s":0.00012,"sg":8,"t":"bull"},{"b":133,"m":0.0004,"s":0.00025,"sg":8,"t":"bull"},{"b":142,"m":0.0006,"s":0.0004,"sg":8,"t":"bull"},{"b":146,"m":0.0005,"s":0.0005,"sg":8,"t":"bull"},
{"b":146,"m":0.0005,"s":0.0005,"sg":9,"t":"bear"},{"b":150,"m":0.00017,"s":0.0003,"sg":9,"t":"bear"},{"b":157,"m":-0.0004,"s":-0.0001,"sg":9,"t":"bear"},{"b":162,"m":-0.0015,"s":-0.0008,"sg":9,"t":"bear"},{"b":166,"m":-0.00115,"s":-0.00115,"sg":9,"t":"bear"},
{"b":166,"m":-0.00115,"s":-0.00115,"sg":10,"t":"bull"},{"b":169,"m":-0.0009,"s":-0.00112,"sg":10,"t":"bull"},{"b":173,"m":-0.00112,"s":-0.00112,"sg":10,"t":"bull"},
{"b":173,"m":-0.00112,"s":-0.00112,"sg":11,"t":"bear"},{"b":175,"m":-0.00125,"s":-0.00114,"sg":11,"t":"bear"},{"b":178,"m":-0.00128,"s":-0.00116,"sg":11,"t":"bear"}
],
"dots": [
{"b":2,"v":-0.00042,"t":"bull"},{"b":11,"v":-0.00046,"t":"bear"},{"b":18,"v":-0.00058,"t":"bull"},{"b":42,"v":0.00035,"t":"bear"},{"b":55,"v":-0.0002,"t":"bull"},{"b":84,"v":0.0024,"t":"bear"},{"b":115,"v":-0.0008,"t":"bull"},{"b":146,"v":0.0005,"t":"bear"},{"b":166,"v":-0.00115,"t":"bull"},{"b":173,"v":-0.00112,"t":"bear"}
],
"lines": [
{"k":"red","b0":-4.85,"b1":231.4,"p0":1.3938,"p1":1.3938,"lab":""},
{"k":"gray","b0":54,"b1":231.4,"p0":1.39323,"p1":1.39323,"lab":"1(1.39323)"},
{"k":"red","b0":-4.85,"b1":231.4,"p0":1.38973,"p1":1.39138,"lab":""},
{"k":"teal","b0":54,"b1":231.4,"p0":1.38885,"p1":1.38885,"lab":"0.618(1.38885)"},
{"k":"green","b0":54,"b1":231.4,"p0":1.38619,"p1":1.38619,"lab":"0.382(1.38619)"},
{"k":"lightgray","b0":-4.85,"b1":231.4,"p0":1.38374,"p1":1.38374,"lab":""},
{"k":"magenta","b0":-4.85,"b1":231.4,"p0":1.38333,"p1":1.38271,"lab":""},
{"k":"lightgray","b0":-4.85,"b1":231.4,"p0":1.382,"p1":1.382,"lab":""},
{"k":"gray","b0":54,"b1":231.4,"p0":1.38101,"p1":1.38101,"lab":"0(1.38101)"},
{"k":"redthick","b0":-4.85,"b1":231.4,"p0":1.3809,"p1":1.3809,"lab":""},
{"k":"redthick","b0":-4.85,"b1":231.4,"p0":1.37871,"p1":1.37871,"lab":""}
],
"pos": [
{"z":"stop","b0":149,"b1":192.4,"p0":1.3889,"p1":1.39025},
{"z":"target","b0":149,"b1":192.4,"p0":1.3775,"p1":1.3889},
{"z":"open","b0":149,"b1":192.4,"p0":1.38154,"p1":1.3889}
],
"plab": [
{"t":"0.00135 (0.10%) 758","b":170,"p":1.39055,"z":"stop"},
{"t":"0.01140 (0.82%) 3131.11","b":170,"p":1.37724,"z":"target"}
],
"plab2": [
{"t":"0.00718 = 105185\n8.46","b":169,"p":1.38875,"z":"open"}
],
"sig": [
{"t":"Buy","b":58.7,"p":1.3759},{"t":"Sell","b":102.7,"p":1.39086},{"t":"Buy","b":115.9,"p":1.38343},{"t":"Sell","b":148.3,"p":1.39104}
],
"yt": [{"v":1.392},{"v":1.39},{"v":1.388},{"v":1.386},{"v":1.384},{"v":1.382},{"v":1.38},{"v":1.378},{"v":1.376},{"v":1.374}],
"mt": [{"v":0.002},{"v":0.001},{"v":0},{"v":-0.001}],
"xt": [{"v":0,"lab":"8"},{"v":12,"lab":"06:00"},{"v":24,"lab":"12:00"},{"v":36,"lab":"18:00"},{"v":48,"lab":"9"},{"v":60,"lab":"06:00"},{"v":72,"lab":"12:00"},{"v":82,"lab":"11"},{"v":96,"lab":"12"},{"v":108,"lab":"06:00"},{"v":120,"lab":"12:00"},{"v":132,"lab":"18:00"},{"v":144,"lab":"13"},{"v":156,"lab":"06:00"},{"v":168,"lab":"12:00"},{"v":180,"lab":"18:00"},{"v":192,"lab":"14"},{"v":204,"lab":"06:00"},{"v":216,"lab":"12:00"},{"v":228,"lab":"18:00"}],
"axlab": [
{"t":"1.39380","p":1.3938,"k":"red"},
{"t":"1.39025","p":1.39025,"k":"red"},
{"t":"1.38890","p":1.3889,"k":"dark"},
{"t":"1.38154","p":1.38292,"k":"teal"},
{"t":"02:34","p":1.38215,"k":"teal"},
{"t":"1.38129","p":1.38147,"k":"dark"},
{"t":"1.38090","p":1.38085,"k":"red"},
{"t":"1.37871","p":1.37879,"k":"red"},
{"t":"1.37750","p":1.3775,"k":"teal"}
],
"hilo": [
{"t":"High – 1.39084","p":1.39107},
{"t":"Low – 1.37419","p":1.37425}
],
"tag": [{"t":"GBPUSD","b":226,"p":1.38292}],
"pdiag": [{"b":149,"p":1.3889},{"b":178,"p":1.38154}],
"ladder": [{"b":59,"p":1.3727},{"b":81,"p":1.3812}],
"wm": [{"a":"GBPUSD, 30","s":"British Pound / U.S. Dollar"}]
},
"vconcat": [
{
"width": 598, "height": 212,
"title": {"text": "GBPUSD · 30 · OANDA    O1.38137 H1.38181 L1.38138 C1.38154 +0.00017 (+0.01%)", "subtitle": ["1.38129     6.4     1.38189", "Hull Suite by InSilico close Hma 55 1 240 1 40   1.38542   1.38189", "Supertrend 10 HL2 3   n/a   n/a   n/a   1.38   n/a   n/a   1.38"], "anchor": "start", "frame": "group", "orient": "top", "offset": -36, "dx": 2, "fontSize": 6.5, "fontWeight": "normal", "color": "#131722", "subtitleFontSize": 6, "subtitleColor": "#131722", "subtitleLineHeight": 8.5, "subtitlePadding": 2},
"resolve": {"scale": {"color": "independent", "strokeWidth": "independent"}},
"layer": [
{"data": {"name": "pos"}, "mark": {"type": "rect"},
 "encoding": {
  "x": {"field": "b0", "type": "quantitative", "scale": {"domain": [-4.85, 231.4], "nice": false, "zero": false}, "axis": {"values": [0,12,24,36,48,60,72,82,96,108,120,132,144,156,168,180,192,204,216,228], "labels": false, "ticks": false, "grid": true, "gridColor": "#f0f3fa", "domain": true, "domainColor": "#e0e3eb"}, "title": null},
  "x2": {"field": "b1"},
  "y": {"field": "p0", "type": "quantitative", "scale": {"domain": [1.37249, 1.39437], "nice": false, "zero": false}, "axis": {"orient": "right", "values": [1.392,1.39,1.388,1.386,1.384,1.382,1.38,1.378,1.376,1.374], "labels": false, "ticks": false, "grid": true, "gridColor": "#f0f3fa", "domain": true, "domainColor": "#e0e3eb"}, "title": null},
  "y2": {"field": "p1"},
  "color": {"field": "z", "type": "nominal", "scale": {"domain": ["stop","target","open"], "range": ["#fad2d5","#c8e8e5","#95d2cb"]}, "legend": null}
 }},
{"data": {"name": "bars"}, "mark": {"type": "area", "interpolate": "step-after", "opacity": 0.14},
 "encoding": {
  "x": {"field": "b", "type": "quantitative", "title": null},
  "y": {"field": "st", "type": "quantitative", "title": null},
  "y2": {"field": "c"},
  "detail": {"field": "ph"},
  "color": {"field": "tr", "type": "nominal", "scale": {"domain": ["u","d"], "range": ["#4caf50","#f23645"]}, "legend": null}
 }},
{"data": {"name": "lines"}, "mark": {"type": "rule", "clip": true},
 "encoding": {
  "x": {"field": "b0", "type": "quantitative", "title": null},
  "x2": {"field": "b1"},
  "y": {"field": "p0", "type": "quantitative", "title": null},
  "y2": {"field": "p1"},
  "color": {"field": "k", "type": "nominal", "scale": {"domain": ["red","redthick","gray","teal","green","magenta","lightgray"], "range": ["#f23645","#f23645","#9598a1","#22ab94","#8cc97a","#ee22ee","#c9ccd3"]}, "legend": null},
  "strokeWidth": {"field": "k", "type": "nominal", "scale": {"domain": ["red","redthick","gray","teal","green","magenta","lightgray"], "range": [1,2,1,1,1,1.5,1]}, "legend": null}
 }},
{"data": {"name": "lines"}, "transform": [{"filter": "datum.lab != ''"}], "mark": {"type": "text", "align": "right", "baseline": "bottom", "dy": -1, "fontSize": 5.5},
 "encoding": {
  "x": {"field": "b1", "type": "quantitative", "title": null},
  "y": {"field": "p0", "type": "quantitative", "title": null},
  "text": {"field": "lab"},
  "color": {"field": "k", "type": "nominal", "scale": {"domain": ["gray","teal","green"], "range": ["#787b86","#22ab94","#6fb85c"]}, "legend": null}
 }},
{"data": {"name": "wm"}, "mark": {"type": "text", "fontSize": 40, "color": "#d9dbe0", "dy": -20, "font": "Liberation Sans"},
 "encoding": {"text": {"field": "a"}}},
{"data": {"name": "wm"}, "mark": {"type": "text", "fontSize": 17, "color": "#d9dbe0", "dy": 22, "font": "Liberation Sans"},
 "encoding": {"text": {"field": "s"}}},
{"data": {"name": "hull"}, "mark": {"type": "area", "interpolate": "monotone", "opacity": 0.85},
 "encoding": {
  "x": {"field": "b", "type": "quantitative", "title": null},
  "y": {"field": "h1", "type": "quantitative", "title": null},
  "y2": {"field": "h2"},
  "detail": {"field": "sg"},
  "color": {"field": "tr", "type": "nominal", "scale": {"domain": ["u","d"], "range": ["#4bef4b","#f4403c"]}, "legend": null}
 }},
{"data": {"name": "hull"}, "mark": {"type": "line", "interpolate": "monotone", "strokeWidth": 1.6, "opacity": 0.85},
 "encoding": {
  "x": {"field": "b", "type": "quantitative", "title": null},
  "y": {"field": "h1", "type": "quantitative", "title": null},
  "detail": {"field": "sg"},
  "color": {"field": "tr", "type": "nominal", "scale": {"domain": ["u","d"], "range": ["#4bef4b","#f4403c"]}, "legend": null}
 }},
{"data": {"name": "bars"}, "mark": {"type": "line", "interpolate": "step-after", "strokeWidth": 0.9},
 "encoding": {
  "x": {"field": "b", "type": "quantitative", "title": null},
  "y": {"field": "st", "type": "quantitative", "title": null},
  "detail": {"field": "ph"},
  "color": {"field": "tr", "type": "nominal", "scale": {"domain": ["u","d"], "range": ["#2e9e44","#e53935"]}, "legend": null}
 }},
{"data": {"name": "bars"}, "mark": {"type": "rule", "strokeWidth": 0.8},
 "encoding": {
  "x": {"field": "b", "type": "quantitative", "title": null},
  "y": {"field": "l", "type": "quantitative", "title": null},
  "y2": {"field": "h"},
  "color": {"condition": {"test": "datum.c >= datum.o", "value": "#26a69a"}, "value": "#ef5350"}
 }},
{"data": {"name": "bars"}, "mark": {"type": "bar", "width": 1.8},
 "encoding": {
  "x": {"field": "b", "type": "quantitative", "title": null},
  "y": {"field": "o", "type": "quantitative", "title": null},
  "y2": {"field": "c"},
  "color": {"condition": {"test": "datum.c >= datum.o", "value": "#26a69a"}, "value": "#ef5350"}
 }},
{"data": {"name": "ladder"}, "mark": {"type": "line", "strokeWidth": 3, "strokeDash": [1, 1.5], "opacity": 0.55, "color": "#e57373", "clip": true},
 "encoding": {
  "x": {"field": "b", "type": "quantitative", "title": null},
  "y": {"field": "p", "type": "quantitative", "title": null}
 }},
{"data": {"name": "pdiag"}, "mark": {"type": "line", "strokeWidth": 0.8, "strokeDash": [2, 2], "color": "#787b86"},
 "encoding": {
  "x": {"field": "b", "type": "quantitative", "title": null},
  "y": {"field": "p", "type": "quantitative", "title": null}
 }},
{"data": {"name": "sig"}, "mark": {"type": "point", "filled": true, "opacity": 1, "shape": "M-1,-0.58H1V0.58H-1Z", "size": 150},
 "encoding": {
  "x": {"field": "b", "type": "quantitative", "title": null},
  "y": {"field": "p", "type": "quantitative", "title": null},
  "color": {"field": "t", "type": "nominal", "scale": {"domain": ["Buy","Sell"], "range": ["#43a047","#ef5350"]}, "legend": null}
 }},
{"data": {"name": "sig"}, "mark": {"type": "text", "fontSize": 5, "color": "#ffffff", "baseline": "middle"},
 "encoding": {
  "x": {"field": "b", "type": "quantitative", "title": null},
  "y": {"field": "p", "type": "quantitative", "title": null},
  "text": {"field": "t"}
 }},
{"data": {"name": "plab"}, "mark": {"type": "point", "filled": true, "opacity": 1, "shape": "M-1,-0.14H1V0.14H-1Z", "size": 3300},
 "encoding": {
  "x": {"field": "b", "type": "quantitative", "title": null},
  "y": {"field": "p", "type": "quantitative", "title": null},
  "color": {"field": "z", "type": "nominal", "scale": {"domain": ["stop","target"], "range": ["#f23645","#22ab94"]}, "legend": null}
 }},
{"data": {"name": "plab"}, "mark": {"type": "text", "fontSize": 5.5, "color": "#ffffff", "baseline": "middle"},
 "encoding": {
  "x": {"field": "b", "type": "quantitative", "title": null},
  "y": {"field": "p", "type": "quantitative", "title": null},
  "text": {"field": "t"}
 }},
{"data": {"name": "plab2"}, "mark": {"type": "point", "filled": true, "opacity": 1, "shape": "M-1,-0.32H1V0.32H-1Z", "size": 1850, "color": "#22ab94"},
 "encoding": {
  "x": {"field": "b", "type": "quantitative", "title": null},
  "y": {"field": "p", "type": "quantitative", "title": null}
 }},
{"data": {"name": "plab2"}, "mark": {"type": "text", "fontSize": 5.5, "color": "#ffffff", "baseline": "middle", "lineBreak": "\n", "lineHeight": 6.5, "dy": -3},
 "encoding": {
  "x": {"field": "b", "type": "quantitative", "title": null},
  "y": {"field": "p", "type": "quantitative", "title": null},
  "text": {"field": "t"}
 }},
{"data": {"name": "tag"}, "mark": {"type": "point", "filled": true, "opacity": 1, "shape": "M-1,-0.3H1V0.3H-1Z", "size": 676, "color": "#22ab94"},
 "encoding": {
  "x": {"field": "b", "type": "quantitative", "title": null},
  "y": {"field": "p", "type": "quantitative", "title": null}
 }},
{"data": {"name": "tag"}, "mark": {"type": "text", "fontSize": 5.5, "color": "#ffffff", "baseline": "middle"},
 "encoding": {
  "x": {"field": "b", "type": "quantitative", "title": null},
  "y": {"field": "p", "type": "quantitative", "title": null},
  "text": {"field": "t"}
 }},
{"data": {"name": "yt"}, "mark": {"type": "text", "fontSize": 6.5, "color": "#131722", "baseline": "middle", "clip": false},
 "encoding": {
  "x": {"datum": 236, "type": "quantitative"},
  "y": {"field": "v", "type": "quantitative", "title": null},
  "text": {"field": "v", "type": "quantitative", "format": ".5f"}
 }},
{"data": {"name": "axlab"}, "mark": {"type": "point", "filled": true, "opacity": 1, "shape": "M-1,-0.3H1V0.3H-1Z", "size": 676, "clip": false},
 "encoding": {
  "x": {"datum": 236, "type": "quantitative"},
  "y": {"field": "p", "type": "quantitative", "title": null},
  "color": {"field": "k", "type": "nominal", "scale": {"domain": ["red","dark","teal"], "range": ["#f23645","#50535e","#22ab94"]}, "legend": null}
 }},
{"data": {"name": "axlab"}, "mark": {"type": "text", "fontSize": 6, "color": "#ffffff", "baseline": "middle", "clip": false},
 "encoding": {
  "x": {"datum": 236, "type": "quantitative"},
  "y": {"field": "p", "type": "quantitative", "title": null},
  "text": {"field": "t"}
 }},
{"data": {"name": "hilo"}, "mark": {"type": "point", "filled": true, "opacity": 1, "shape": "M-1,-0.2H1V0.2H-1Z", "size": 1600, "color": "#dde8f7", "clip": false},
 "encoding": {
  "x": {"datum": 234, "type": "quantitative"},
  "y": {"field": "p", "type": "quantitative", "title": null}
 }},
{"data": {"name": "hilo"}, "mark": {"type": "text", "fontSize": 5.5, "color": "#131722", "baseline": "middle", "clip": false},
 "encoding": {
  "x": {"datum": 234, "type": "quantitative"},
  "y": {"field": "p", "type": "quantitative", "title": null},
  "text": {"field": "t"}
 }}
]
},
{
"width": 598, "height": 60,
"title": {"text": "CM_Ult_MacD_MTF 240 12 26 9   -0.00128   -0.00116   -0.00012   n/a", "anchor": "start", "frame": "group", "orient": "top", "offset": -9, "dx": 2, "fontSize": 6, "fontWeight": "normal", "color": "#131722"},
"resolve": {"scale": {"color": "independent"}},
"layer": [
{"data": {"name": "bars"}, "mark": {"type": "bar", "width": 1.2},
 "encoding": {
  "x": {"field": "b", "type": "quantitative", "scale": {"domain": [-4.85, 231.4], "nice": false, "zero": false}, "axis": {"values": [0,12,24,36,48,60,72,82,96,108,120,132,144,156,168,180,192,204,216,228], "labels": false, "ticks": false, "grid": true, "gridColor": "#f0f3fa", "domain": true, "domainColor": "#e0e3eb"}, "title": null},
  "y": {"field": "hv", "type": "quantitative", "scale": {"domain": [-0.00183, 0.00317], "nice": false, "zero": false}, "axis": {"orient": "right", "values": [0.002,0.001,0,-0.001], "labels": false, "ticks": false, "grid": true, "gridColor": "#f0f3fa", "domain": true, "domainColor": "#e0e3eb"}, "title": null},
  "color": {"field": "hc", "type": "nominal", "scale": {"domain": ["up","upf","dn","dnr"], "range": ["#22e5f5","#3a4cf5","#ff1f1f","#8b0d0d"]}, "legend": null}
 }},
{"data": {"name": "macd"}, "mark": {"type": "line", "interpolate": "monotone", "strokeWidth": 1.2, "color": "#f2e21b"},
 "encoding": {
  "x": {"field": "b", "type": "quantitative", "title": null},
  "y": {"field": "s", "type": "quantitative", "title": null},
  "order": {"field": "b"}
 }},
{"data": {"name": "macd"}, "mark": {"type": "line", "interpolate": "monotone", "strokeWidth": 1.6},
 "encoding": {
  "x": {"field": "b", "type": "quantitative", "title": null},
  "y": {"field": "m", "type": "quantitative", "title": null},
  "detail": {"field": "sg"},
  "color": {"field": "t", "type": "nominal", "scale": {"domain": ["bull","bear"], "range": ["#2ee62e","#ff1f1f"]}, "legend": null}
 }},
{"data": {"name": "dots"}, "mark": {"type": "circle", "size": 16, "opacity": 1},
 "encoding": {
  "x": {"field": "b", "type": "quantitative", "title": null},
  "y": {"field": "v", "type": "quantitative", "title": null},
  "color": {"field": "t", "type": "nominal", "scale": {"domain": ["bull","bear"], "range": ["#2ee62e","#ff1f1f"]}, "legend": null}
 }},
{"data": {"name": "mt"}, "mark": {"type": "text", "fontSize": 6, "color": "#131722", "baseline": "middle", "clip": false},
 "encoding": {
  "x": {"datum": 236, "type": "quantitative"},
  "y": {"field": "v", "type": "quantitative", "title": null},
  "text": {"field": "v", "type": "quantitative", "format": ".5f"}
 }},
{"data": {"name": "xt"}, "mark": {"type": "text", "fontSize": 6.5, "color": "#131722", "baseline": "top", "dy": 3, "clip": false},
 "encoding": {
  "x": {"field": "v", "type": "quantitative", "title": null},
  "y": {"datum": -0.00183, "type": "quantitative"},
  "text": {"field": "lab"}
 }}
]
},
{
"width": 625, "height": 14,
"view": {"fill": "#131722", "stroke": null},
"layer": [
{"data": {"values": [{"g":"L","t":"1D     5D     1M     3M     6M     YTD     1Y     5Y     All"}]}, "mark": {"type": "text", "align": "left", "fontSize": 6.5, "color": "#b2b5be", "baseline": "middle"},
 "encoding": {"x": {"field": "g", "type": "nominal", "scale": {"type": "point", "domain": ["L","R"], "range": [6, 619], "padding": 0}, "axis": null}, "text": {"field": "t"}}},
{"data": {"values": [{"g":"R","t":"17:26:26 (UTC-4)      %"}]}, "mark": {"type": "text", "align": "right", "fontSize": 6.5, "color": "#b2b5be", "baseline": "middle", "dx": -27},
 "encoding": {"x": {"field": "g", "type": "nominal", "axis": null}, "text": {"field": "t"}}},
{"data": {"values": [{"g":"R","t":"log    auto"}]}, "mark": {"type": "text", "align": "right", "fontSize": 6.5, "color": "#2962ff", "baseline": "middle"},
 "encoding": {"x": {"field": "g", "type": "nominal", "axis": null}, "text": {"field": "t"}}}
]
}
]
}
